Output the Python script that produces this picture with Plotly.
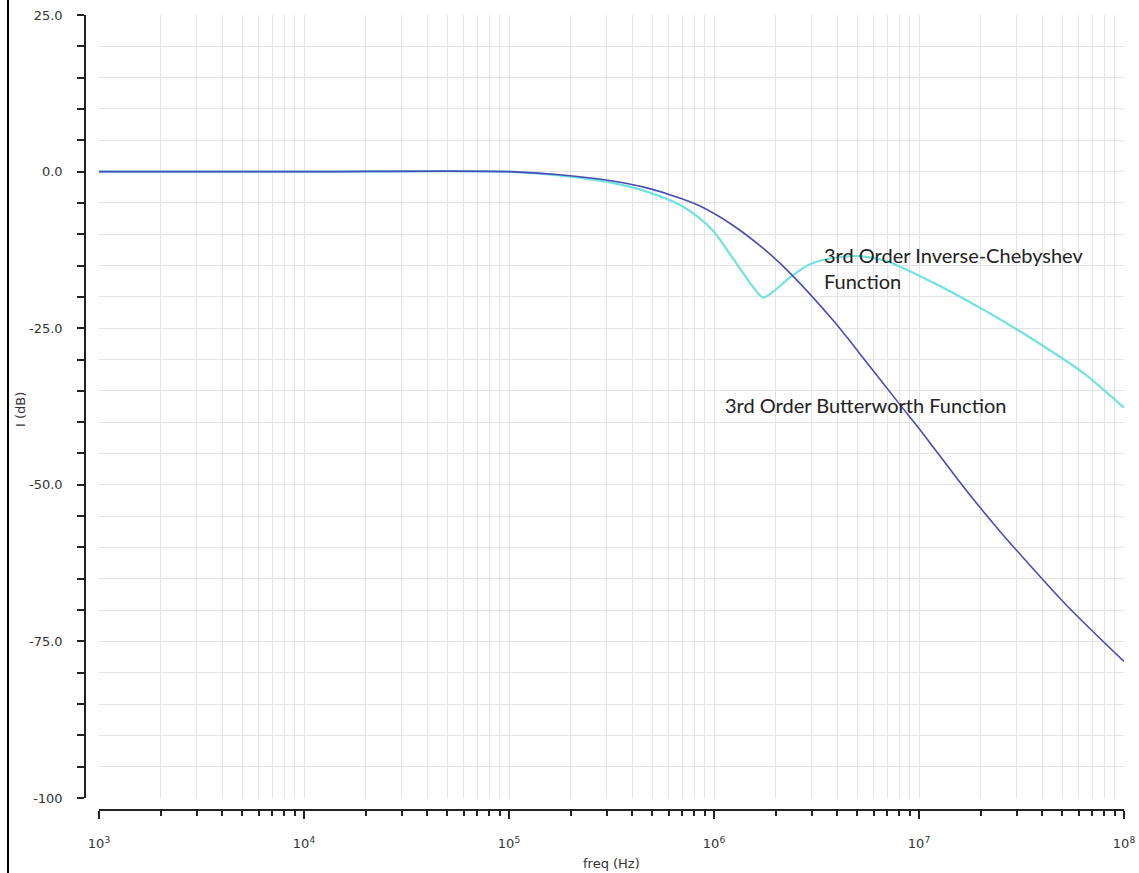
import plotly.graph_objects as go

# Butterworth response
bw_freq = [1e3, 1e4, 1e5, 1.77e5, 3.2e5, 4.7e5, 6.8e5, 8.55e5, 1.24e6, 1.82e6,
           2.35e6, 3.8e6, 5.57e6, 8.07e6, 1.0e7, 1.71e7, 2.48e7, 3.6e7,
           5.27e7, 1.0e8]
bw_db = [0.0, 0.0, 0.0, -0.5, -1.5, -2.6, -4.2, -5.5, -8.6, -12.8,
         -16.2, -23.7, -30.5, -37.2, -41.0, -51.0, -57.4, -63.4,
         -69.3, -78.2]

# Inverse-Chebyshev response
ic_freq = [1e3, 1e4, 1e5, 1.77e5, 3.2e5, 4.7e5, 6.8e5, 8.55e5, 1.0e6, 1.24e6,
           1.5e6, 1.73e6, 1.92e6, 2.35e6, 2.94e6, 3.8e6, 5.15e6, 6.98e6,
           1.17e7, 2.05e7, 3.6e7, 6.31e7, 1.0e8]
ic_db = [0.0, 0.0, 0.0, -0.6, -1.8, -3.2, -5.3, -7.5, -9.6, -13.9,
         -17.8, -20.1, -19.3, -16.9, -14.8, -13.8, -13.5, -14.3,
         -17.7, -22.0, -26.8, -32.1, -37.7]

x_major = [1e3, 1e4, 1e5, 1e6, 1e7, 1e8]
x_labels = ["10<sup>3</sup>", "10<sup>4</sup>", "10<sup>5</sup>",
            "10<sup>6</sup>", "10<sup>7</sup>", "10<sup>8</sup>"]
x_minor = [m * 10 ** e for e in range(3, 8) for m in range(2, 10)]

y_major = [25, 0, -25, -50, -75, -100]
y_labels = ["25.0", "0.0", "-25.0", "-50.0", "-75.0", "-100"]
y_minor = [v for v in range(-100, 26, 5) if v not in y_major]

W, H = 1139, 873
ML, MR, MT, MB = 85, 15, 15, 63
PW = W - ML - MR
PH = H - MT - MB

fig = go.Figure()
fig.add_trace(go.Scatter(x=ic_freq, y=ic_db, mode="lines",
                         line=dict(color="#72e2de", width=2.2, shape="spline", smoothing=0.7),
                         name="3rd Order Inverse-Chebyshev Function"))
fig.add_trace(go.Scatter(x=bw_freq, y=bw_db, mode="lines",
                         line=dict(color="#4b4bb8", width=1.6, shape="spline", smoothing=0.9),
                         name="3rd Order Butterworth Function"))

tickfont = dict(family="DejaVu Sans", size=13, color="#333333")
grid = "#e4e4e4"

fig.update_layout(
    width=W, height=H,
    margin=dict(l=ML, r=MR, t=MT, b=MB, autoexpand=False),
    paper_bgcolor="white", plot_bgcolor="white",
    showlegend=False,
    xaxis=dict(
        type="log", range=[3, 8], domain=[14 / PW, 1],
        anchor="free", position=0, automargin=False,
        showline=True, linecolor="#222222", linewidth=1.5,
        ticks="outside", ticklen=8, tickwidth=1.5, tickcolor="#222222",
        tickvals=x_major, ticktext=x_labels, tickfont=tickfont,
        ticklabelstandoff=14,
        showgrid=True, gridcolor=grid, gridwidth=1, zeroline=False,
        minor=dict(tickvals=x_minor, ticks="outside", ticklen=5, tickwidth=1.5,
                   tickcolor="#222222", showgrid=True, gridcolor=grid, gridwidth=1),
    ),
    yaxis=dict(
        range=[-100, 25], domain=[12 / PH, 1],
        anchor="free", position=0, automargin=False,
        showline=True, linecolor="#222222", linewidth=1.5,
        ticks="outside", ticklen=7, tickwidth=1.5, tickcolor="#222222",
        tickvals=y_major, ticktext=y_labels, tickfont=tickfont,
        ticklabelstandoff=12,
        showgrid=True, gridcolor=grid, gridwidth=1, zeroline=False,
        minor=dict(tickvals=y_minor, ticks="outside", ticklen=7, tickwidth=1.5,
                   tickcolor="#222222", showgrid=True, gridcolor=grid, gridwidth=1),
    ),
)

ann_font = dict(family="Lato", size=20, color="#222222")
fig.add_annotation(x=6.527, y=-15.4, xref="x", yref="y",
                   text="3rd Order Inverse-Chebyshev<br>Function",
                   showarrow=False, xanchor="left", yanchor="middle", align="left",
                   font=ann_font)
fig.add_annotation(x=6.044, y=-37.2, xref="x", yref="y",
                   text="3rd Order Butterworth Function",
                   showarrow=False, xanchor="left", yanchor="middle", align="left",
                   font=ann_font)
fig.add_annotation(x=(20 - ML) / PW, y=(H - MB - 410) / PH, xref="paper", yref="paper",
                   text="I (dB)", textangle=-90, showarrow=False,
                   xanchor="center", yanchor="middle",
                   font=dict(family="DejaVu Sans", size=13, color="#333333"))
fig.add_annotation(x=(611 - ML) / PW, y=(H - MB - 863) / PH, xref="paper", yref="paper",
                   text="freq (Hz)", showarrow=False,
                   xanchor="center", yanchor="middle",
                   font=dict(family="DejaVu Sans", size=13, color="#333333"))

fig.add_shape(type="line", xref="paper", yref="paper",
              x0=(8 - ML) / PW, x1=(8 - ML) / PW,
              y0=(H - MB - H) / PH, y1=(H - MB) / PH,
              line=dict(color="#000000", width=2))

fig.write_html("out.html")
